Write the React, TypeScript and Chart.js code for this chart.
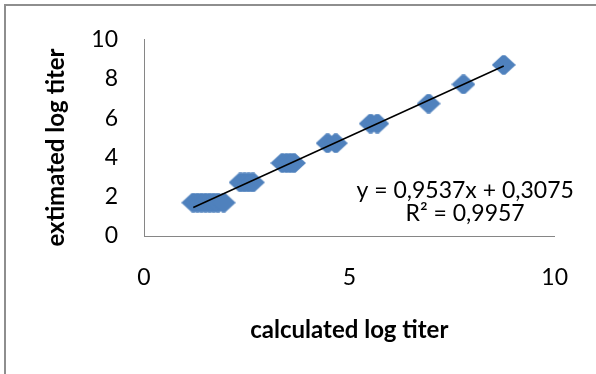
import React, { useEffect, useRef } from "react";
import { Chart, registerables } from "chart.js";

Chart.register(...registerables);

// Data
const calculatedLogTiter = [
  1.2, 1.3, 1.4, 1.5, 1.6, 1.7, 1.8, 1.94,
  2.35, 2.45, 2.55, 2.65,
  3.37, 3.47, 3.56, 3.65,
  4.47, 4.67,
  5.52, 5.68,
  6.93, 7.78, 8.76,
];
const estimatedLogTiter = [
  1.7, 1.7, 1.7, 1.7, 1.7, 1.7, 1.7, 1.7,
  2.73, 2.73, 2.73, 2.73,
  3.72, 3.72, 3.72, 3.72,
  4.73, 4.73,
  5.73, 5.73,
  6.75, 7.73, 8.72,
];
const xTickValues = [0, 5, 10];
const yTickValues = [0, 2, 4, 6, 8, 10];
const trendSlope = 0.9537;
const trendIntercept = 0.3075;
const equationLines = ["y = 0,9537x + 0,3075", "R\u00B2 = 0,9957"];
const xTitle = "calculated log titer";
const yTitle = "extimated log titer";

const FONT = "Lato, 'Open Sans', sans-serif";
const BLUE = "#4F81BD";

function makeMarker(): HTMLCanvasElement {
  const c = document.createElement("canvas");
  const w = 24, h = 20;
  c.width = w;
  c.height = h;
  const ctx = c.getContext("2d")!;
  ctx.fillStyle = BLUE;
  ctx.beginPath();
  ctx.moveTo(0, h / 2);
  ctx.lineTo(w / 2 - 1.5, 0.3);
  ctx.lineTo(w / 2 + 1.5, 0.3);
  ctx.lineTo(w, h / 2);
  ctx.lineTo(w / 2 + 1.5, h - 0.3);
  ctx.lineTo(w / 2 - 1.5, h - 0.3);
  ctx.closePath();
  ctx.fill();
  return c;
}

const annotationPlugin = {
  id: "annotations",
  afterDraw(chart: any) {
    const { ctx, scales } = chart;
    ctx.save();
    // y-axis title
    ctx.font = `bold 24px ${FONT}`;
    ctx.fillStyle = "#000";
    ctx.textAlign = "center";
    ctx.textBaseline = "middle";
    ctx.translate(56, 147.5);
    ctx.rotate(-Math.PI / 2);
    ctx.fillText(yTitle, 0, 0);
    ctx.restore();

    // trendline equation
    ctx.save();
    ctx.font = `23px ${FONT}`;
    ctx.fillStyle = "#000";
    ctx.textAlign = "center";
    ctx.textBaseline = "middle";
    const cx = scales.x.getPixelForValue(7.82);
    const y0 = scales.y.getPixelForValue(2.3);
    ctx.fillText(equationLines[0], cx, y0);
    ctx.fillText(equationLines[1], cx, y0 + 23);
    ctx.restore();
  },
};

export default function App() {
  const ref = useRef<HTMLCanvasElement | null>(null);

  useEffect(() => {
    if (!ref.current) return;
    const marker = makeMarker();
    const xmin = Math.min(...calculatedLogTiter);
    const xmax = Math.max(...calculatedLogTiter);
    const trend = [xmin, xmax].map((x) => ({ x, y: trendSlope * x + trendIntercept }));
    const points = calculatedLogTiter.map((x, i) => ({ x, y: estimatedLogTiter[i] }));

    const chart = new Chart(ref.current, {
      type: "scatter",
      data: {
        datasets: [
          {
            data: points,
            pointStyle: marker as any,
            backgroundColor: BLUE,
            borderColor: BLUE,
            pointRadius: 10,
            order: 2,
          },
          {
            type: "line" as any,
            data: trend,
            showLine: true,
            borderColor: "#000",
            borderWidth: 1.5,
            pointRadius: 0,
            fill: false,
            order: 1,
          },
        ],
      },
      options: {
        responsive: false,
        animation: false,
        layout: { padding: { left: 0, top: 35, right: 38, bottom: 0 } },
        plugins: { legend: { display: false }, tooltip: { enabled: false } },
        scales: {
          x: {
            type: "linear",
            min: 0,
            max: 10,
            afterBuildTicks: (s: any) => {
              s.ticks = xTickValues.map((v) => ({ value: v }));
            },
            afterFit: (s: any) => {
              s.height = 138;
            },
            grid: { display: false, drawTicks: false },
            border: { display: true, color: "#868686", width: 1 },
            ticks: { padding: 28, color: "#000", font: { family: FONT, size: 23 } },
            title: {
              display: true,
              text: xTitle,
              color: "#000",
              font: { family: FONT, size: 24, weight: "bold" },
              padding: { top: 0, bottom: 29 },
            },
          },
          y: {
            type: "linear",
            min: 0,
            max: 10,
            afterBuildTicks: (s: any) => {
              s.ticks = yTickValues.map((v) => ({ value: v }));
            },
            afterFit: (s: any) => {
              s.width = 144;
            },
            grid: { display: false, drawTicks: false },
            border: { display: true, color: "#868686", width: 1 },
            ticks: { padding: 26, color: "#000", font: { family: FONT, size: 23 } },
          },
        },
      },
      plugins: [annotationPlugin],
    });
    return () => chart.destroy();
  }, []);

  return (
    <div style={{ position: "fixed", left: 0, top: 0, width: 596, height: 374, overflow: "hidden", background: "#fff" }}>
      <div
        style={{
          position: "absolute",
          left: 4,
          top: 4,
          width: 800,
          height: 600,
          borderLeft: "2px solid #8E8E8E",
          borderTop: "2px solid #8E8E8E",
        }}
      />
      <canvas ref={ref} width={596} height={374} style={{ position: "absolute", left: 0, top: 0 }} />
    </div>
  );
}
